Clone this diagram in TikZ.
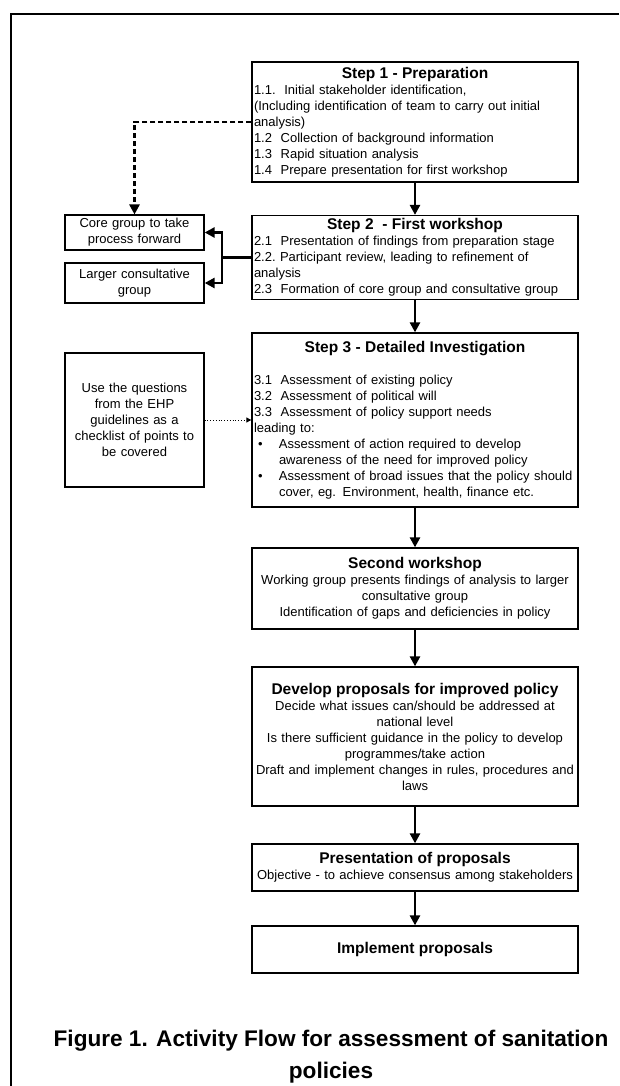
\documentclass[tikz,border=0pt]{standalone}
\usepackage{fontspec}
\setmainfont{Liberation Sans}
\usetikzlibrary{arrows.meta}

\newcommand{\bodyfont}{\fontsize{13}{16}\selectfont}
\newcommand{\titlefont}{\fontsize{15.5}{18}\selectfont\bfseries}
\newcommand{\boxtitle}[1]{\makebox[\hsize]{\titlefont #1}}

\begin{document}
\begin{tikzpicture}[x=1pt,y=-1pt,
    stepbox/.style={draw,line width=1.3pt,inner xsep=2pt,inner ysep=3pt,
        text width=322pt,align=left,font=\bodyfont},
    centrebox/.style={stepbox,align=center},
    sidebox/.style={draw,line width=1.3pt,inner xsep=2pt,
        text width=135pt,align=center,font=\bodyfont},
    flow/.style={line width=2.5pt,-{Triangle[length=10pt,width=10pt]}},
    feedback/.style={line width=2.6pt,dash pattern=on 5pt off 3pt,
        -{Triangle[length=10pt,width=10pt]}},
    checklist/.style={line width=0.8pt,dotted,-{Triangle[length=5pt,width=5pt]}}]
    % Page area and frame
    \useasboundingbox (0,0) rectangle (619,1086);
    \fill[white] (0,0) rectangle (619,1086);
    \draw[line width=1.3pt] (619,14) -- (11,14) -- (11,1086);

    % Main column
    \node[stepbox,minimum height=120pt] (prep) at (415,122) {%
        \boxtitle{Step 1 - Preparation}\\
        1.1.\ \ Initial stakeholder identification,\\
        (Including identification of team to carry out initial\\
        analysis)\\
        1.2\ \ Collection of background information\\
        1.3\ \ Rapid situation analysis\\
        1.4\ \ Prepare presentation for first workshop};
    \node[stepbox,minimum height=81pt] (ws1) at (415,257.5) {%
        \boxtitle{Step 2\ \ - First workshop}\\
        2.1\ \ Presentation of findings from preparation stage\\
        2.2.\ Participant review, leading to refinement of\\
        analysis\\
        2.3\ \ Formation of core group and consultative group};
    \node[stepbox,minimum height=174pt] (invest) at (415,420) {%
        \boxtitle{Step 3 - Detailed Investigation}\\[15.8pt]
        3.1\ \ Assessment of existing policy\\
        3.2\ \ Assessment of political will\\
        3.3\ \ Assessment of policy support needs\\
        leading to:\\
        \hspace*{4pt}\makebox[21pt][l]{\textbullet}Assessment of action required to develop\\
        \hspace*{25pt}awareness of the need for improved policy\\
        \hspace*{4pt}\makebox[21pt][l]{\textbullet}Assessment of broad issues that the policy should\\
        \hspace*{25pt}cover, eg. Environment, health, finance etc.};
    \node[centrebox,minimum height=81pt] (ws2) at (415,588.5) {%
        {\titlefont Second workshop}\\
        Working group presents findings of analysis to larger\\
        consultative group\\
        Identification of gaps and deficiencies in policy};
    \node[centrebox,minimum height=139pt] (develop) at (415,736.5) {%
        {\titlefont Develop proposals for improved policy}\\
        Decide what issues can/should be addressed at\\
        national level\\
        Is there sufficient guidance in the policy to develop\\
        programmes/take action\\
        Draft and implement changes in rules, procedures and\\
        laws};
    \node[centrebox,minimum height=47pt] (present) at (415,867.5) {%
        {\titlefont Presentation of proposals}\\
        Objective - to achieve consensus among stakeholders};
    \node[centrebox,minimum height=47pt] (implement) at (415,949.5)
        {\titlefont Implement proposals};

    % Side boxes
    \node[sidebox,minimum height=31pt] (core) at (134.5,232.5)
        {Core group to take\\process forward};
    \node[sidebox,minimum height=40pt] (larger) at (134.5,283)
        {Larger consultative\\group};
    \node[sidebox,minimum height=134pt] (ehp) at (134.5,420)
        {Use the questions\\from the EHP\\guidelines as a\\checklist of points to\\be covered};

    % Arrows down the column
    \foreach \from/\to in {prep/ws1,ws1/invest,invest/ws2,ws2/develop,develop/present,present/implement}
        \draw[flow] (\from.south) -- (\to.north);

    % Links to the side boxes
    \draw[feedback] (prep.west |- 0,122) -| (core.north);
    \coordinate (fork) at (222,257.5);
    \draw[line width=2.5pt] (ws1.west) -- (fork);
    \draw[flow] (fork) |- (core.east);
    \draw[flow] (fork) |- (larger.east);
    \draw[checklist] (ehp.east) -- (invest.west);

    % Caption
    \node[font=\fontsize{22.6}{32}\selectfont\bfseries,align=center] (caption) at (331,1057)
        {Figure 1. Activity Flow for assessment of sanitation\\policies};
\end{tikzpicture}
\end{document}
